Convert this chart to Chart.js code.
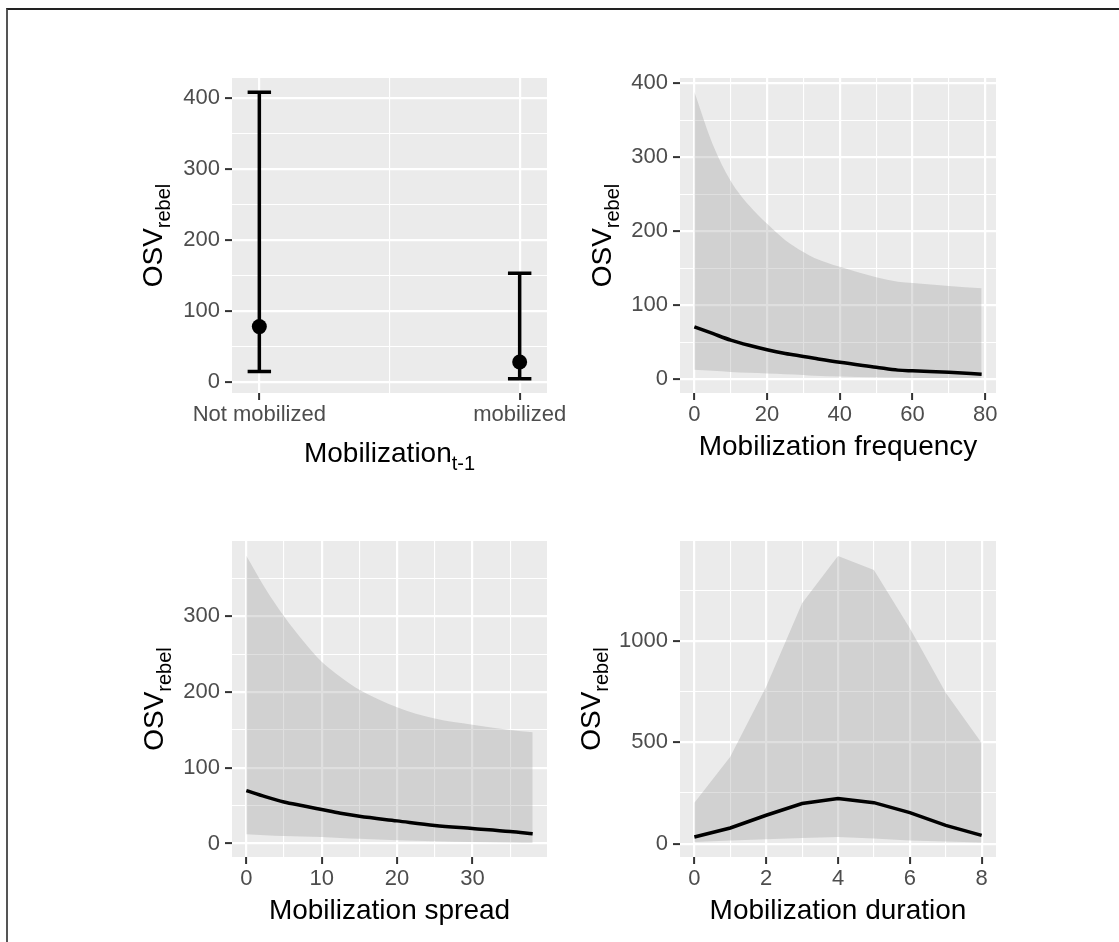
<!DOCTYPE html>
<html>
<head>
<meta charset="utf-8">
<script src="https://cdn.jsdelivr.net/npm/chart.js@4.4.0/dist/chart.umd.min.js"></script>
<style>
  html, body { margin: 0; padding: 0; background: #fff; }
  body { width: 1119px; height: 942px; position: relative; overflow: hidden; }
  #frame { position: absolute; left: 6px; top: 8px; right: 0; bottom: 0;
           border-left: 2px solid #555; border-top: 2px solid #222; }
  .panel { position: absolute; }
</style>
</head>
<body>
<div id="frame"></div>
<div class="panel" id="p1"><canvas id="c1"></canvas></div>
<div class="panel" id="p2"><canvas id="c2"></canvas></div>
<div class="panel" id="p3"><canvas id="c3"></canvas></div>
<div class="panel" id="p4"><canvas id="c4"></canvas></div>
<script>
const FONT = "'Liberation Sans', Arial, sans-serif";

// Panel 1: lagged mobilization (point + error bar)
const lagCategories = ['Not mobilized', 'mobilized'];
const lagEstimate = [78.5, 28.6];
const lagLower = [15.4, 5.2];
const lagUpper = [408, 153.4];
const lagYTicks = [0, 100, 200, 300, 400];
const lagYMinor = [50, 150, 250, 350];

// Panel 2: mobilization frequency
const freqX     = [0, 5, 10, 15, 20, 25, 30, 33, 40, 50, 56, 60, 70, 79];
const freqUpper = [388, 318, 268, 235, 210, 188, 172, 164, 152, 138, 132, 130, 126, 123];
const freqEst   = [71, 62, 53, 46, 40, 35, 31, 28.5, 23, 16.5, 12.5, 11.5, 9.5, 7];
const freqLower = [13, 11.5, 10, 9, 8, 7, 6, 5, 4, 3, 2.5, 2, 2, 2];
const freqXTicks = [0, 20, 40, 60, 80];
const freqXMinor = [10, 30, 50, 70];
const freqYTicks = [0, 100, 200, 300, 400];
const freqYMinor = [50, 150, 250, 350];

// Panel 3: mobilization spread
const spreadX     = [0, 2.5, 5, 7.5, 10, 12.5, 15, 20, 25, 30, 35, 38];
const spreadUpper = [380, 337, 300, 268, 240, 220, 203, 180, 165, 157, 150, 147];
const spreadEst   = [70, 62, 55, 50, 45, 40, 36, 30, 24, 20, 16, 13];
const spreadLower = [12.3, 11, 10, 9.4, 8.8, 7.5, 6.5, 4.4, 3, 2, 1.5, 1];
const spreadXTicks = [0, 10, 20, 30];
const spreadXMinor = [5, 15, 25, 35];
const spreadYTicks = [0, 100, 200, 300];
const spreadYMinor = [50, 150, 250, 350];

// Panel 4: mobilization duration
const durX     = [0, 1, 2, 3, 4, 5, 6, 7, 8];
const durUpper = [202, 428, 774, 1186, 1419, 1350, 1062, 744, 497];
const durEst   = [33, 77, 140, 198, 222, 202, 153, 90, 41];
const durLower = [8, 16, 21, 28, 33, 25, 16, 11, 5];
const durXTicks = [0, 2, 4, 6, 8];
const durXMinor = [1, 3, 5, 7];
const durYTicks = [0, 500, 1000];
const durYMinor = [250, 750, 1250];

// room around each grey panel inside its canvas
const PAD_L = 120, PAD_T = 30, PAD_R = 40, PAD_B = 100;

function placePanel(divId, canvasId, box) {
  const w = box.r - box.l + PAD_L + PAD_R;
  const h = box.b - box.t + PAD_T + PAD_B;
  const div = document.getElementById(divId);
  div.style.left = (box.l - PAD_L) + 'px';
  div.style.top = (box.t - PAD_T) + 'px';
  const cv = document.getElementById(canvasId);
  cv.width = w; cv.height = h;
  cv.style.width = w + 'px'; cv.style.height = h + 'px';
  return cv;
}

function linAxis(pos, min, max, major, minor, fmt) {
  const all = major.concat(minor).sort((a, b) => a - b);
  const isMajor = c => c.tick && major.indexOf(c.tick.value) !== -1;
  return {
    type: 'linear', position: pos, min: min, max: max, bounds: 'data',
    afterBuildTicks: s => { s.ticks = all.map(v => ({ value: v })); },
    afterFit: s => { if (pos === 'left') s.width = PAD_L; else s.height = PAD_B; },
    ticks: {
      autoSkip: false, maxRotation: 0, minRotation: 0,
      color: '#4D4D4D', font: { family: FONT, size: 22 },
      padding: pos === 'left' ? 5 : 2,
      callback: v => major.indexOf(v) !== -1 ? fmt(v) : ''
    },
    grid: {
      color: '#FFFFFF',
      lineWidth: c => isMajor(c) ? 2.2 : 1.1,
      tickColor: c => isMajor(c) ? '#333333' : 'rgba(0,0,0,0)',
      tickWidth: 2, tickLength: 7, offset: false, drawTicks: true
    },
    border: { display: false }
  };
}

const panelBg = {
  id: 'panelBg',
  beforeDraw(chart) {
    const { ctx, chartArea: a } = chart;
    ctx.save();
    ctx.fillStyle = '#EBEBEB';
    ctx.fillRect(a.left, a.top, a.right - a.left, a.bottom - a.top);
    ctx.restore();
  }
};

function subText(ctx, text, sub, cx, y) {
  ctx.font = '28px ' + FONT;
  const w1 = ctx.measureText(text).width;
  ctx.font = '20px ' + FONT;
  const w2 = sub ? ctx.measureText(sub).width : 0;
  const x = cx - (w1 + w2) / 2;
  ctx.font = '28px ' + FONT;
  ctx.fillText(text, x, y);
  if (sub) {
    ctx.font = '20px ' + FONT;
    ctx.fillText(sub, x + w1, y + 8);
  }
}

function axisTitles(o) {
  return {
    id: 'axisTitles',
    afterDraw(chart) {
      const { ctx, chartArea: a } = chart;
      ctx.save();
      ctx.fillStyle = '#000';
      ctx.textAlign = 'left';
      ctx.textBaseline = 'alphabetic';
      subText(ctx, o.x, o.xSub, (a.left + a.right) / 2, a.bottom + o.xBase);
      ctx.translate(a.left - o.yBase, (a.top + a.bottom) / 2);
      ctx.rotate(-Math.PI / 2);
      subText(ctx, 'OSV', 'rebel', 0, 0);
      ctx.restore();
    }
  };
}

const errorBars = {
  id: 'errorBars',
  beforeDatasetsDraw(chart) {
    const { ctx, scales: { x, y } } = chart;
    const capHalf = 0.045;
    ctx.save();
    ctx.strokeStyle = '#000';
    ctx.lineWidth = 3.5;
    lagCategories.forEach((c, i) => {
      const px = x.getPixelForValue(i);
      const x0 = x.getPixelForValue(i - capHalf);
      const x1 = x.getPixelForValue(i + capHalf);
      const top = y.getPixelForValue(lagUpper[i]);
      const bot = y.getPixelForValue(lagLower[i]);
      ctx.beginPath();
      ctx.moveTo(px, top); ctx.lineTo(px, bot);
      ctx.moveTo(x0, top); ctx.lineTo(x1, top);
      ctx.moveTo(x0, bot); ctx.lineTo(x1, bot);
      ctx.stroke();
    });
    ctx.restore();
  }
};

function baseOptions(xAxis, yAxis) {
  return {
    responsive: false, maintainAspectRatio: false, animation: false,
    devicePixelRatio: 1, events: [],
    layout: { padding: { left: 0, top: PAD_T, right: PAD_R, bottom: 0 } },
    plugins: { legend: { display: false }, tooltip: { enabled: false } },
    scales: { x: xAxis, y: yAxis }
  };
}

function ribbonChart(canvas, xs, lower, upper, est, xAxis, yAxis, titles, smooth) {
  const pts = arr => xs.map((x, i) => ({ x: x, y: arr[i] }));
  const interp = smooth ? 'monotone' : 'default';
  return new Chart(canvas, {
    type: 'line',
    data: {
      datasets: [
        { data: pts(est), borderColor: '#000000', borderWidth: 3.5, pointRadius: 0,
          fill: false, cubicInterpolationMode: interp },
        { data: pts(lower), borderColor: 'rgba(0,0,0,0)', borderWidth: 0, pointRadius: 0,
          fill: false, cubicInterpolationMode: interp },
        { data: pts(upper), borderColor: 'rgba(0,0,0,0)', borderWidth: 0, pointRadius: 0,
          fill: '-1', backgroundColor: 'rgba(150,150,150,0.3)', cubicInterpolationMode: interp }
      ]
    },
    options: baseOptions(xAxis, yAxis),
    plugins: [panelBg, axisTitles(titles)]
  });
}

const num = v => String(v);

// Panel 1
const c1 = placePanel('p1', 'c1', { l: 232, t: 78, r: 547, b: 393 });
new Chart(c1, {
  type: 'scatter',
  data: {
    datasets: [{
      data: lagCategories.map((c, i) => ({ x: i, y: lagEstimate[i] })),
      backgroundColor: '#000000', borderWidth: 0, pointRadius: 7.5
    }]
  },
  options: baseOptions(
    linAxis('bottom', -0.105, 1.105, [0, 1], [0.5], v => lagCategories[v]),
    linAxis('left', -14.9, 428, lagYTicks, lagYMinor, num)
  ),
  plugins: [panelBg, errorBars,
    axisTitles({ x: 'Mobilization', xSub: 't-1', xBase: 68.5, yBase: 70 })]
});

// Panel 2
const c2 = placePanel('p2', 'c2', { l: 680, t: 78, r: 996, b: 393 });
ribbonChart(c2, freqX, freqLower, freqUpper, freqEst,
  linAxis('bottom', -3.95, 82.95, freqXTicks, freqXMinor, num),
  linAxis('left', -18.4, 407, freqYTicks, freqYMinor, num),
  { x: 'Mobilization frequency', xSub: '', xBase: 62, yBase: 69 }, true);

// Panel 3
const c3 = placePanel('p3', 'c3', { l: 232, t: 541, r: 547, b: 857 });
ribbonChart(c3, spreadX, spreadLower, spreadUpper, spreadEst,
  linAxis('bottom', -1.9, 39.9, spreadXTicks, spreadXMinor, num),
  linAxis('left', -17.7, 399.5, spreadYTicks, spreadYMinor, num),
  { x: 'Mobilization spread', xSub: '', xBase: 61.5, yBase: 69 }, true);

// Panel 4
const c4 = placePanel('p4', 'c4', { l: 680, t: 541, r: 996, b: 857 });
ribbonChart(c4, durX, durLower, durUpper, durEst,
  linAxis('bottom', -0.4, 8.4, durXTicks, durXMinor, num),
  linAxis('left', -66, 1493, durYTicks, durYMinor, num),
  { x: 'Mobilization duration', xSub: '', xBase: 61.5, yBase: 80 }, false);
</script>
</body>
</html>
